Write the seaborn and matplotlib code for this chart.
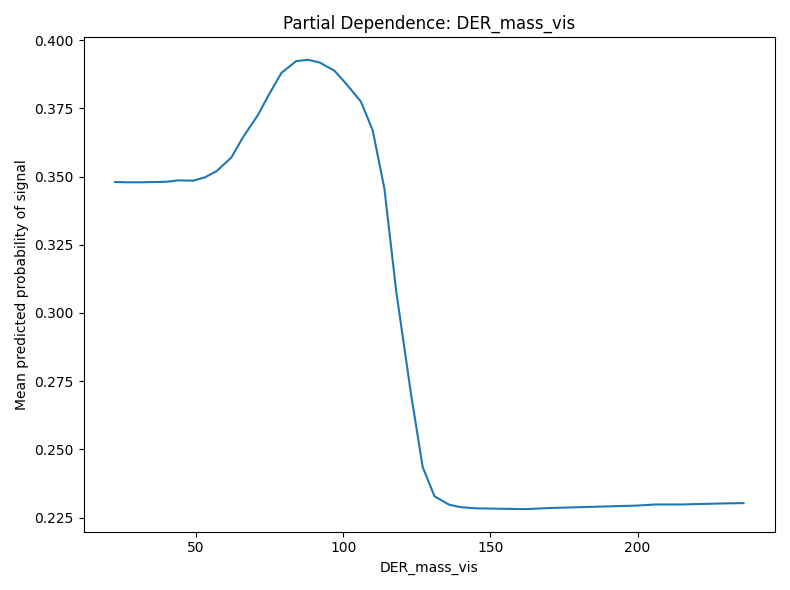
import seaborn as sns
import matplotlib
matplotlib.use("Agg")
import matplotlib.pyplot as plt

# grid values
mass_vis = [22.5, 27, 31, 36, 40, 44, 49, 53, 57, 62, 66, 71, 75, 79, 84, 88,
            92, 97, 101, 106, 110, 114, 118, 123, 127, 131, 136, 140, 145,
            150, 155, 162, 170, 180, 190, 200, 206, 215, 222, 230, 236]
mean_prob = [0.3480, 0.3479, 0.3479, 0.3480, 0.3481, 0.3486, 0.3485, 0.3497,
             0.3520, 0.3570, 0.3645, 0.3725, 0.3805, 0.3880, 0.3923, 0.3928,
             0.3918, 0.3888, 0.3840, 0.3775, 0.3670, 0.3455, 0.3080, 0.2705,
             0.2435, 0.2328, 0.2297, 0.2288, 0.2284, 0.2283, 0.2282, 0.2281,
             0.2285, 0.2288, 0.2291, 0.2294, 0.2298, 0.2298, 0.2300, 0.2302,
             0.2303]

fig, ax = plt.subplots(figsize=(7.9, 5.9), dpi=100)
sns.lineplot(x=mass_vis, y=mean_prob, ax=ax, color="#1f77b4", linewidth=1.5)
ax.set_title("Partial Dependence: DER_mass_vis")
ax.set_xlabel("DER_mass_vis")
ax.set_ylabel("Mean predicted probability of signal")
ax.set_yticks([0.225, 0.250, 0.275, 0.300, 0.325, 0.350, 0.375, 0.400])
plt.tight_layout()
plt.savefig("out.png")
